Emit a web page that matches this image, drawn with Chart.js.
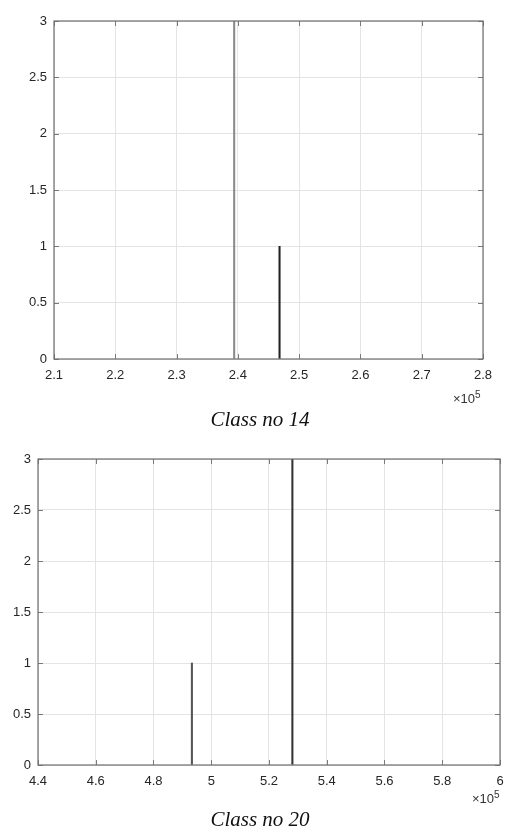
<!DOCTYPE html>
<html>
<head>
<meta charset="utf-8">
<script src="https://cdn.jsdelivr.net/npm/chart.js@4"></script>
<style>
  body { margin: 0; background: #fff; width: 508px; height: 828px; position: relative; overflow: hidden; }
  .box { position: absolute; left: 0; width: 508px; }
  .cap { position: absolute; width: 508px; left: 6px; text-align: center; font-family: "Liberation Serif", serif; font-style: italic; font-size: 21px; color: #111; }
  .exp { position: absolute; font-family: "Liberation Sans", sans-serif; font-size: 13px; color: #333; }
  .exp sup { font-size: 10px; }
</style>
</head>
<body>
<div class="box" style="top:0;height:390px"><canvas id="chart14"></canvas></div>
<div class="exp" style="left:453px;top:389px">&times;10<sup>5</sup></div>
<div class="cap" style="top:407px">Class no 14</div>

<div class="box" style="top:440px;height:350px"><canvas id="chart20"></canvas></div>
<div class="exp" style="left:472px;top:789px">&times;10<sup>5</sup></div>
<div class="cap" style="top:807px">Class no 20</div>

<script>
// class 14
const class14Pos = [239400, 246800];
const class14Count = [3, 1];
const class14Colors = ["#8a8a8a", "#222222"];
const class14XTicks = [2.1, 2.2, 2.3, 2.4, 2.5, 2.6, 2.7, 2.8];

// class 20
const class20Pos = [493300, 528100];
const class20Count = [1, 3];
const class20Colors = ["#555555", "#333333"];
const class20XTicks = [4.4, 4.6, 4.8, 5, 5.2, 5.4, 5.6, 5.8, 6];

const yTicks = [0, 0.5, 1, 1.5, 2, 2.5, 3];

// matlab style box with ticks pointing in
const boxTicks = {
  id: "boxTicks",
  afterDraw(chart) {
    const ctx = chart.ctx;
    const a = chart.chartArea;
    const xs = chart.scales.x, ys = chart.scales.y;
    ctx.save();
    ctx.strokeStyle = "#7a7a7a";
    ctx.lineWidth = 1;
    xs.ticks.forEach(t => {
      const px = Math.round(xs.getPixelForValue(t.value)) + 0.5;
      ctx.beginPath();
      ctx.moveTo(px, a.bottom); ctx.lineTo(px, a.bottom - 5);
      ctx.moveTo(px, a.top); ctx.lineTo(px, a.top + 5);
      ctx.stroke();
    });
    ys.ticks.forEach(t => {
      const py = Math.round(ys.getPixelForValue(t.value)) + 0.5;
      ctx.beginPath();
      ctx.moveTo(a.left, py); ctx.lineTo(a.left + 5, py);
      ctx.moveTo(a.right, py); ctx.lineTo(a.right - 5, py);
      ctx.stroke();
    });
    ctx.strokeStyle = "#6e6e6e";
    ctx.lineWidth = 1.2;
    ctx.strokeRect(a.left, a.top, a.right - a.left, a.bottom - a.top);
    ctx.restore();
  }
};

function makeChart(id, pos, counts, colors, xTicks, pad, yWidth, xHeight) {
  const min = xTicks[0] * 1e5, max = xTicks[xTicks.length - 1] * 1e5;
  const ctx = document.getElementById(id).getContext("2d");
  return new Chart(ctx, {
    type: "bar",
    data: {
      datasets: [{
        data: pos.map((p, i) => ({ x: p, y: counts[i] })),
        backgroundColor: colors,
        barThickness: 1.4,
      }],
    },
    options: {
      responsive: true,
      maintainAspectRatio: false,
      animation: false,
      layout: { padding: pad },
      plugins: { legend: { display: false }, tooltip: { enabled: false } },
      scales: {
        x: {
          type: "linear",
          min: min,
          max: max,
          offset: false,
          afterBuildTicks: s => { s.ticks = xTicks.map(v => ({ value: v * 1e5 })); },
          afterFit: s => { s.height = xHeight; s.paddingLeft = 0; s.paddingRight = 0; },
          ticks: {
            color: "#262626",
            font: { family: "Liberation Sans", size: 13 },
            padding: 9,
            maxRotation: 0,
            autoSkip: false,
            callback: v => String(Number((v / 1e5).toFixed(1))),
          },
          grid: { color: "#e4e4e4", drawTicks: false, offset: false },
          border: { display: false },
        },
        y: {
          min: 0,
          max: 3,
          afterBuildTicks: s => { s.ticks = yTicks.map(v => ({ value: v })); },
          afterFit: s => { s.width = yWidth; },
          ticks: {
            color: "#262626",
            font: { family: "Liberation Sans", size: 13 },
            padding: 7,
            callback: v => String(v),
          },
          grid: { color: "#e4e4e4", drawTicks: false },
          border: { display: false },
        },
      },
    },
    plugins: [boxTicks],
  });
}

makeChart("chart14", class14Pos, class14Count, class14Colors, class14XTicks,
  { left: 0, top: 21, right: 25, bottom: 0 }, 54, 31);
makeChart("chart20", class20Pos, class20Count, class20Colors, class20XTicks,
  { left: 0, top: 19, right: 8, bottom: 0 }, 38, 25);
</script>
</body>
</html>
